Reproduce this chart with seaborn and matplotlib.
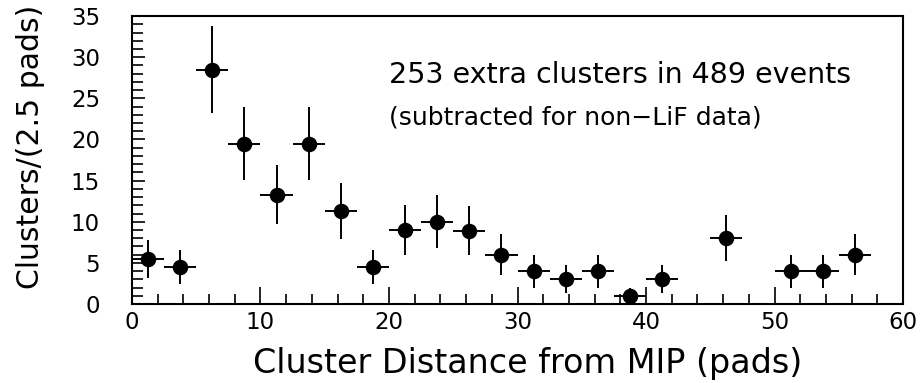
import numpy as np
import pandas as pd
import matplotlib
matplotlib.use("Agg")
import matplotlib.pyplot as plt
import seaborn as sns
from matplotlib.ticker import MultipleLocator

# bin centres (2.5 pad bins) and counts
bin_centres = [1.25, 3.75, 6.25, 8.75, 11.25, 13.75, 16.25, 18.75, 21.25, 23.75,
               26.25, 28.75, 31.25, 33.75, 36.25, 38.75, 41.25, 46.25, 51.25, 53.75, 56.25]
clusters = [5.5, 4.5, 28.5, 19.5, 13.3, 19.5, 11.3, 4.5, 9.0, 10.0,
            8.9, 6.0, 4.0, 3.0, 4.0, 1.0, 3.0, 8.0, 4.0, 4.0, 6.0]
errors = [2.3, 2.1, 5.3, 4.4, 3.6, 4.4, 3.4, 2.1, 3.0, 3.2,
          3.0, 2.45, 2.0, 1.7, 2.0, 1.0, 1.7, 2.8, 2.0, 2.0, 2.45]
half_width = 1.25

df = pd.DataFrame({"x": bin_centres, "y": clusters, "err": errors})

sns.set_style("ticks")
plt.rcParams["font.family"] = ["DejaVu Sans"]
plt.rcParams.update({"text.color": "black", "axes.labelcolor": "black",
                     "xtick.color": "black", "ytick.color": "black",
                     "axes.edgecolor": "black"})

fig = plt.figure(figsize=(9.21, 3.83), dpi=100)
ax = fig.add_axes([0.1433, 0.2063, 0.8372, 0.7517])

ax.errorbar(df["x"], df["y"], yerr=df["err"], xerr=half_width,
            fmt="none", ecolor="black", elinewidth=1.4, capsize=0)
sns.scatterplot(data=df, x="x", y="y", ax=ax, color="black", s=125,
                edgecolor="black", linewidth=0, zorder=3)

ax.set_xlim(0, 60)
ax.set_ylim(0, 35)
ax.xaxis.set_major_locator(MultipleLocator(10))
ax.xaxis.set_minor_locator(MultipleLocator(2))
ax.yaxis.set_major_locator(MultipleLocator(5))
ax.yaxis.set_minor_locator(MultipleLocator(1))
ax.tick_params(which="both", direction="in", top=False, right=False, width=1.2)
ax.tick_params(axis="x", which="major", length=12)
ax.tick_params(axis="x", which="minor", length=7)
ax.tick_params(axis="y", which="major", length=9)
ax.tick_params(axis="y", which="minor", length=8)
ax.tick_params(axis="both", which="major", labelsize=16.5)
ax.tick_params(axis="x", pad=5)
ax.tick_params(axis="y", pad=23)
for sp in ax.spines.values():
    sp.set_linewidth(1.5)
    sp.set_visible(True)

ax.set_xlabel("Cluster Distance from MIP (pads)", fontsize=24)
ax.set_ylabel("Clusters/(2.5 pads)", fontsize=21.5)
ax.xaxis.set_label_coords(0.513, -0.15)
ax.yaxis.set_label_coords(-0.113, 0.545)

ax.text(0.333, 0.795, "253 extra clusters in 489 events", transform=ax.transAxes,
        fontsize=20.5, va="center")
ax.text(0.333, 0.649, "(subtracted for non\u2212LiF data)", transform=ax.transAxes,
        fontsize=18, va="center")

fig.savefig("out.png", dpi=100)
